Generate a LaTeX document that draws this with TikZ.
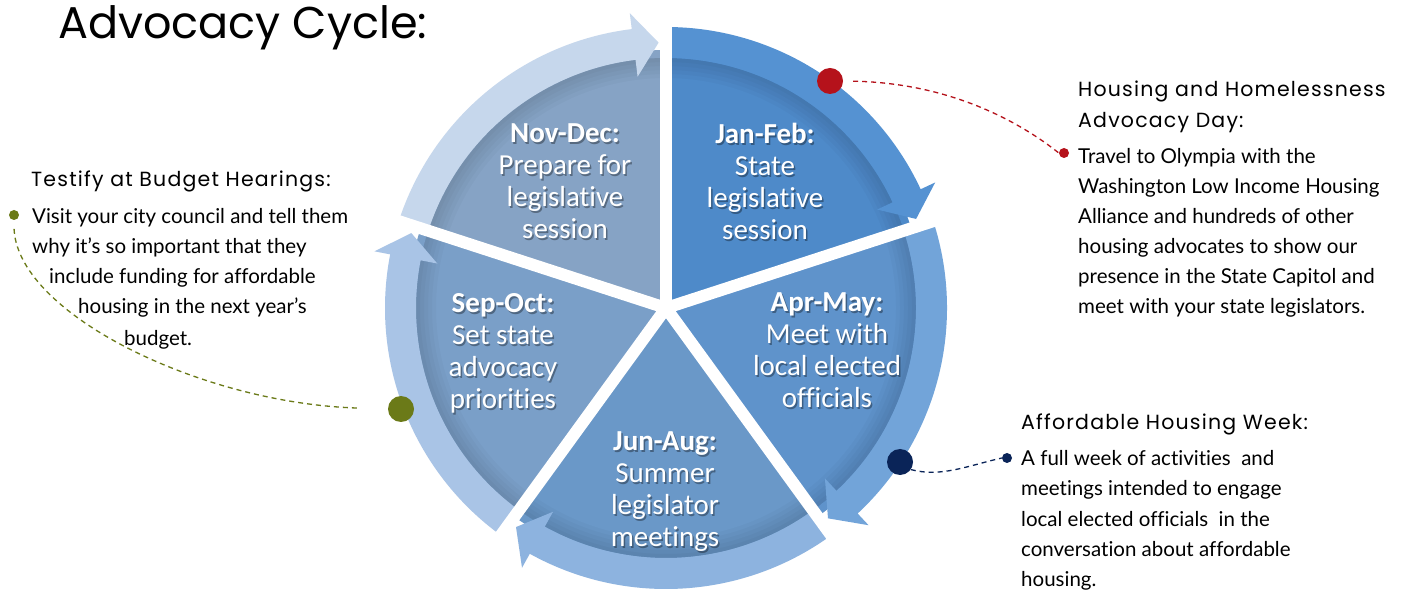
\documentclass[tikz,border=0pt]{standalone}
\usepackage{fontspec}
\newfontfamily\headfont[LetterSpace=5.8]{Poppins}
\newfontfamily\titlefont{Poppins}
\newfontfamily\bodyfont[Ligatures={NoCommon}]{Lato}
\newfontfamily\secfont[Ligatures={NoCommon}]{Carlito}
\definecolor{sND}{HTML}{86A3C5}
\definecolor{sJF}{HTML}{4E8AC9}
\definecolor{sAM}{HTML}{5F93CB}
\definecolor{sJA}{HTML}{6A98C8}
\definecolor{sSO}{HTML}{7A9FC8}
\definecolor{bND}{HTML}{C6D7EC}
\definecolor{bJF}{HTML}{5592D2}
\definecolor{bAM}{HTML}{72A4D9}
\definecolor{bJA}{HTML}{8DB3DF}
\definecolor{bSO}{HTML}{A9C4E6}
\definecolor{cred}{HTML}{B5121B}
\definecolor{cnavy}{HTML}{0A2458}
\definecolor{colive}{HTML}{6B7A18}
\tikzset{
  bigdot/.style={circle, inner sep=0pt, minimum size=26pt, fill=#1},
  smalldot/.style={circle, inner sep=0pt, minimum size=10pt, fill=#1},
  link/.style={draw=#1, line width=1.3pt, dash pattern=on 5pt off 4pt},
  seclbl/.style={align=center, text=white, font=\secfont\fontsize{29}{32}\selectfont, inner sep=0pt},
  secshadow/.style={align=center, text=black, opacity=0.35, font=\secfont\fontsize{29}{32}\selectfont, inner sep=0pt},
  head/.style={anchor=base west, inner sep=0pt, font=\headfont\fontsize{20.5}{24}\selectfont},
  body/.style={anchor=base west, inner sep=0pt, font=\bodyfont\fontsize{20.5}{24}\selectfont},
}
\newcommand{\secwedge}[3]{\fill[#3] (0,0) -- (#1:258) arc[start angle=#1, end angle=#2, radius=258] -- cycle;}
\newcommand{\arrowband}[3]{\fill[#3] (#1:250) arc[start angle=#1, end angle={#2+7}, radius=250] -- ({#2+7}:233) -- ({#2+1.6}:265.5) -- ({#2+7}:297) -- ({#2+7}:281) arc[start angle={#2+7}, end angle=#1, radius=281] -- cycle;}
\begin{document}
\begin{tikzpicture}[x=1pt,y=1pt]
\useasboundingbox (0,0) rectangle (1408,592);
\fill[white] (0,0) rectangle (1408,592);
% title
\node[anchor=base west, inner sep=0pt, font=\titlefont\fontsize{44.5}{50}\selectfont] (title) at (58,553) {Advocacy Cycle:};
% wheel
\begin{scope}[shift={(666,284)}]
  \secwedge{90}{162}{sND}
  \secwedge{18}{90}{sJF}
  \secwedge{-54}{18}{sAM}
  \secwedge{-126}{-54}{sJA}
  \secwedge{162}{234}{sSO}
  \foreach \w in {4,8,12,16,20}
    \draw[black, opacity=0.025, line width=\w pt] (0,0) circle[radius={250-\w/2}];
  \arrowband{162}{90}{bND}
  \arrowband{90}{18}{bJF}
  \arrowband{18}{-54}{bAM}
  \arrowband{-54}{-126}{bJA}
  \arrowband{234}{162}{bSO}
  \foreach \a in {90,18,-54,-126,162}
    \draw[white, line width=12pt] (0,0) -- (\a:305);
\end{scope}
% sector labels
\node[secshadow] (nds) at (566.5,409) {\textbf{Nov-Dec:}\\Prepare for\\legislative\\session};
\node[seclbl] (nd) at (565,410.5) {\textbf{Nov-Dec:}\\Prepare for\\legislative\\session};
\node[secshadow] (jfs) at (766.5,409) {\textbf{Jan-Feb:}\\State\\legislative\\session};
\node[seclbl] (jf) at (765,410.5) {\textbf{Jan-Feb:}\\State\\legislative\\session};
\node[secshadow] (ams) at (828.5,240) {\textbf{Apr-May:}\\Meet with\\local elected\\officials};
\node[seclbl] (am) at (827,241.5) {\textbf{Apr-May:}\\Meet with\\local elected\\officials};
\node[secshadow] (jas) at (666.5,98.5) {\textbf{Jun-Aug:}\\Summer\\legislator\\meetings};
\node[seclbl] (ja) at (665,100) {\textbf{Jun-Aug:}\\Summer\\legislator\\meetings};
\node[secshadow] (sos) at (504.5,237) {\textbf{Sep-Oct:}\\Set state\\advocacy\\priorities};
\node[seclbl] (so) at (503,238.5) {\textbf{Sep-Oct:}\\Set state\\advocacy\\priorities};
% markers
\node[bigdot=cred] (bigred) at (830,511) {};
\node[bigdot=cnavy] (bignavy) at (900,130) {};
\node[bigdot=colive] (bigolive) at (401,183) {};
\node[smalldot=cred] (dotred) at (1064,439) {};
\node[smalldot=cnavy] (dotnavy) at (1007,134) {};
\node[smalldot=colive] (dotolive) at (14,377) {};
% connectors
\draw[link=cred, shorten <=10pt] (bigred.east) .. controls +(107,-2) and +(-39,31) .. (dotred.west);
\draw[link=cnavy] (bignavy.-35) .. controls +(30,-8) and +(-35,-8) .. (dotnavy.west);
\draw[link=colive, shorten <=31pt, shorten >=6pt] (bigolive.west) .. controls +(-188,6) and +(0,-92) .. (dotolive.south);
% left text
\node[head] (lh) at (31,405) {Testify at Budget Hearings:};
\node[body] (lb1) at (32,368.7) {Visit your city council and tell them};
\node[body] (lb2) at (32,338) {why it’s so important that they};
\node[body] (lb3) at (49,308) {include funding for affordable};
\node[body] (lb4) at (78,278) {housing in the next year’s};
\node[body] (lb5) at (124,246.3) {budget.};
% right top text
\node[head] (rh1) at (1078,495) {Housing and Homelessness};
\node[head] (rh2) at (1078,464) {Advocacy Day:};
\foreach \t [count=\i from 0] in {{Travel to Olympia with the},{Washington Low Income Housing},{Alliance and hundreds of other},{housing advocates to show our},{presence in the State Capitol and},{meet with your state legislators.}}
  \node[body] (rb\i) at (1078,428-30*\i) {\t};
% right bottom text
\node[head] (ah) at (1021,162) {Affordable Housing Week:};
\foreach \t [count=\i from 0] in {{A full week of activities\ \ and},{meetings intended to engage},{local elected officials\ \ in the},{conversation about affordable},{housing.}}
  \node[body] (ab\i) at (1021,126-30*\i) {\t};
\end{tikzpicture}
\end{document}
